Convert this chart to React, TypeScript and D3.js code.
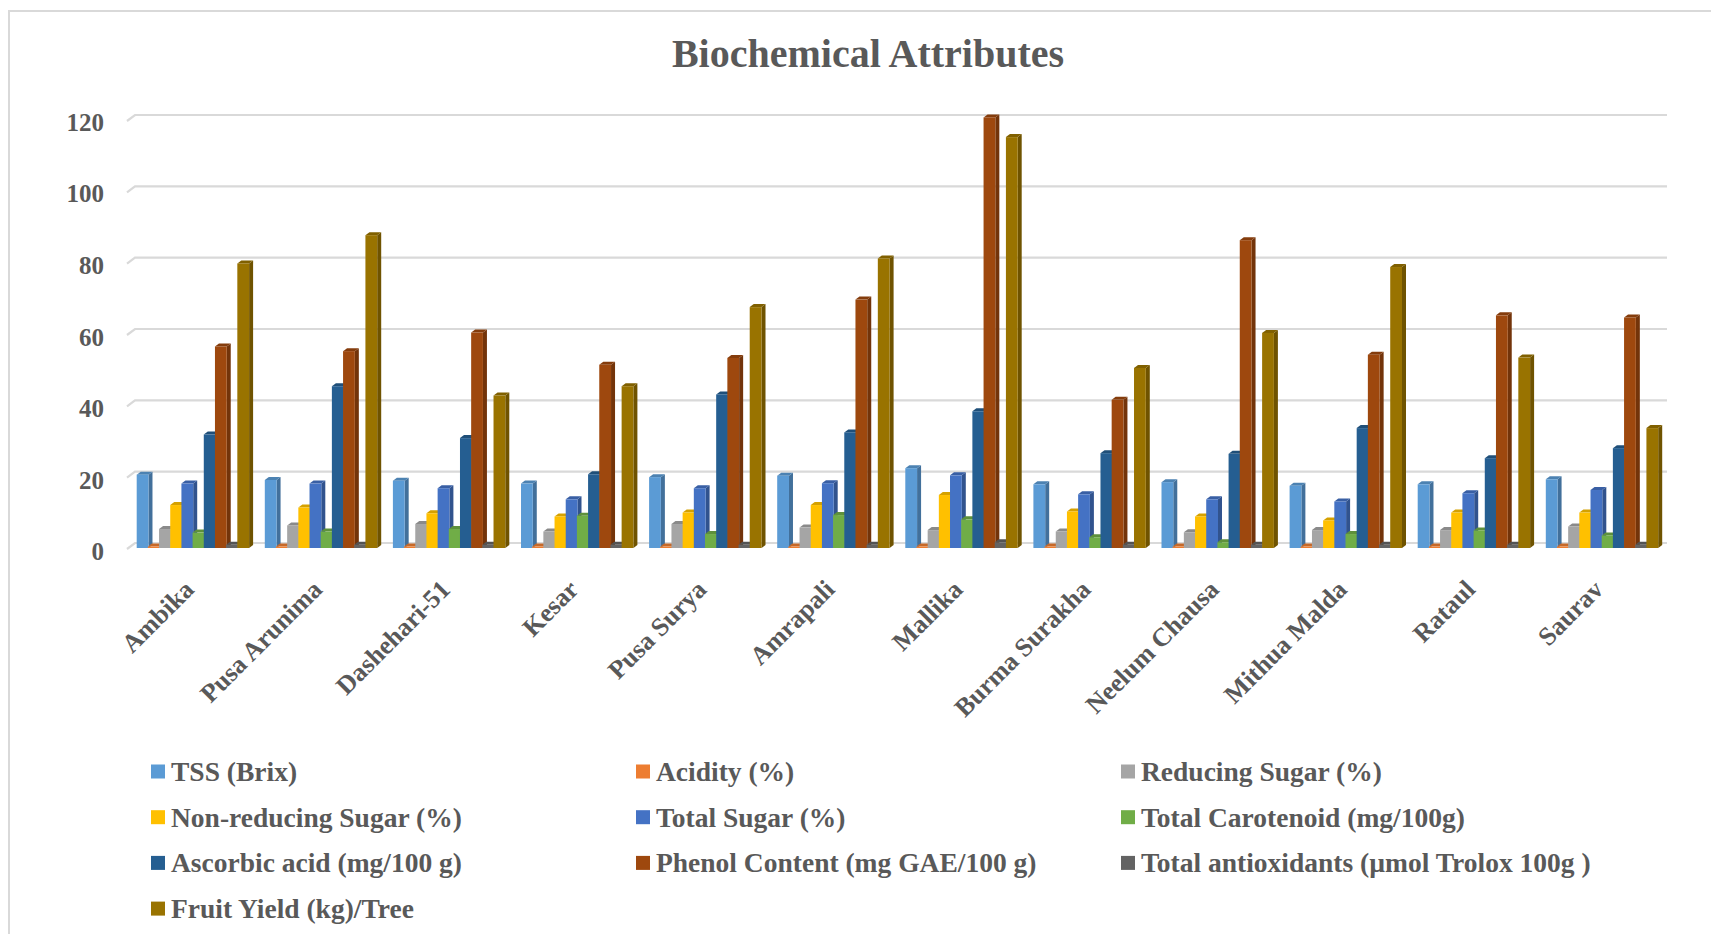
import React from "react";
import * as d3 from "d3";

const categories = ["Ambika", "Pusa Arunima", "Dashehari-51", "Kesar", "Pusa Surya", "Amrapali", "Mallika", "Burma Surakha", "Neelum Chausa", "Mithua Malda", "Rataul", "Saurav"];

const seriesNames = [
  "TSS (Brix)",
  "Acidity (%)",
  "Reducing Sugar (%)",
  "Non-reducing Sugar (%)",
  "Total Sugar (%)",
  "Total Carotenoid (mg/100g)",
  "Ascorbic acid (mg/100 g)",
  "Phenol Content (mg GAE/100 g)",
  "Total antioxidants (µmol Trolox 100g )",
  "Fruit Yield (kg)/Tree",
];
const seriesColors = ["#5B9BD5", "#ED7D31", "#A5A5A5", "#FFC000", "#4472C4", "#70AD47", "#255E91", "#9E480E", "#636363", "#997300"];

const tss = [20.5, 19.0, 18.8, 18.0, 19.8, 20.2, 22.3, 17.8, 18.4, 17.4, 17.8, 19.2];
const acidity = [0.4, 0.4, 0.4, 0.4, 0.4, 0.4, 0.4, 0.4, 0.4, 0.4, 0.4, 0.4];
const reducingSugar = [5.3, 6.3, 6.7, 4.6, 6.7, 5.7, 5.0, 4.6, 4.4, 5.0, 5.0, 6.0];
const nonReducingSugar = [12.0, 11.3, 9.7, 8.8, 9.9, 12.0, 14.8, 10.2, 8.8, 7.7, 9.9, 9.9];
const totalSugar = [18.0, 18.0, 16.7, 13.6, 16.7, 18.1, 20.3, 15.0, 13.6, 13.0, 15.3, 16.2];
const carotenoid = [4.3, 4.6, 5.3, 9.0, 3.9, 9.2, 8.0, 3.0, 1.6, 3.9, 4.9, 3.5];
const ascorbicAcid = [31.7, 45.2, 30.7, 20.6, 42.9, 32.3, 38.2, 26.5, 26.3, 33.5, 25.1, 27.9];
const phenol = [56.3, 55.0, 60.2, 51.2, 53.1, 69.4, 120.3, 41.4, 86.0, 54.0, 65.0, 64.4];
const antioxidants = [0.9, 0.9, 0.9, 0.9, 0.9, 0.9, 1.6, 0.9, 0.9, 0.9, 0.9, 0.9];
const fruitYield = [79.5, 87.4, 42.6, 45.2, 67.3, 80.9, 114.8, 50.3, 60.1, 78.5, 53.2, 33.5];

const seriesValues = [tss, acidity, reducingSugar, nonReducingSugar, totalSugar, carotenoid, ascorbicAcid, phenol, antioxidants, fruitYield];

const yTicks = [0, 20, 40, 60, 80, 100, 120];

const FONT = "'Liberation Serif', 'Times New Roman', serif";
const TEXT = "#595959";

export default function App() {
  const width = 1711, height = 934;

  // bars sit on the front plane, gridlines on the back wall
  const xScale = d3.scaleBand().domain(categories).range([128.5, 1665.7]);
  const xInner = d3.scaleBand().domain(seriesNames).range([8.2, 120]);
  const yFront = d3.scaleLinear().domain([0, 120]).range([548, 118.5]);
  const yBack = d3.scaleLinear().domain([0, 120]).range([543, 115]);
  const depthX = 4, depthY = 3;

  const bars: JSX.Element[] = [];
  categories.forEach((cat, ci) => {
    seriesNames.forEach((s, si) => {
      const v = seriesValues[si][ci];
      const x0 = (xScale(cat) as number) + (xInner(s) as number);
      const w = xInner.bandwidth() + 0.6;
      const yTop = yFront(v);
      const yBase = yFront(0);
      const c = d3.color(seriesColors[si])!;
      const side = c.darker(0.9).formatHex();
      const top = c.darker(0.5).formatHex();
      bars.push(
        <g key={`${ci}-${si}`}>
          <path d={`M${x0 + w},${yBase} L${x0 + w + depthX},${yBase - depthY} L${x0 + w + depthX},${yTop - depthY} L${x0 + w},${yTop} Z`} fill={side} />
          <path d={`M${x0},${yTop} L${x0 + depthX},${yTop - depthY} L${x0 + w + depthX},${yTop - depthY} L${x0 + w},${yTop} Z`} fill={top} />
          <rect x={x0} y={yTop} width={w} height={yBase - yTop} fill={seriesColors[si]} />
        </g>
      );
    });
  });

  return (
    <svg width={width} height={height} style={{ position: "absolute", left: 0, top: 0, background: "#fff" }}>
      <rect x={9} y={11} width={1730} height={960} fill="#fff" stroke="#d9d9d9" strokeWidth={2} />
      <text x={868} y={67} textAnchor="middle" fontFamily={FONT} fontWeight="bold" fontSize={40} fill={TEXT}>Biochemical Attributes</text>

      {yTicks.map((t) => (
        <g key={t}>
          <path d={`M127,${yBack(t) + 6} L135,${yBack(t)} L1667,${yBack(t)}`} fill="none" stroke="#d9d9d9" strokeWidth={2.2} />
          <text x={104} y={yFront(t) + 3.5} dy="0.35em" textAnchor="end" fontFamily={FONT} fontWeight="bold" fontSize={25} fill={TEXT}>{t}</text>
        </g>
      ))}

      {bars}

      {categories.map((cat) => (
        <text key={cat} transform={`translate(${(xScale(cat) as number) + xScale.bandwidth() / 2 + 3},${591}) rotate(-45)`} textAnchor="end" fontFamily={FONT} fontWeight="bold" fontSize={26} fill={TEXT}>{cat}</text>
      ))}

      {seriesNames.map((s, i) => {
        const lx = 151 + (i % 3) * 485;
        const ly = 771.5 + Math.floor(i / 3) * 45.7;
        return (
          <g key={s}>
            <rect x={lx} y={ly - 7} width={14} height={14} fill={seriesColors[i]} />
            <text x={lx + 20} y={ly + 9.5} fontFamily={FONT} fontWeight="bold" fontSize={27.5} fill={TEXT}>{s}</text>
          </g>
        );
      })}
    </svg>
  );
}
